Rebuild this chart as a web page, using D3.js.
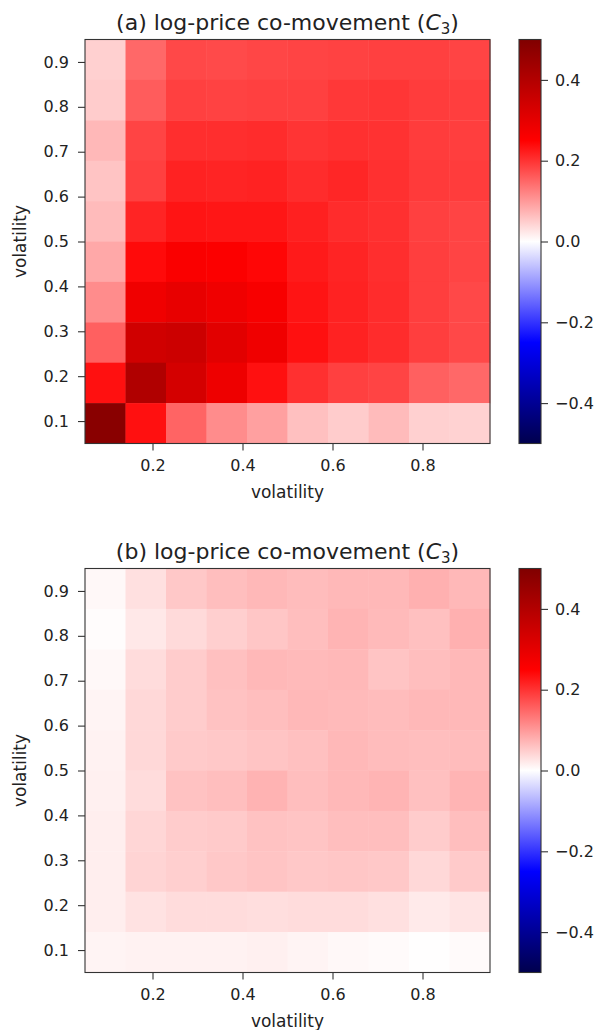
<!DOCTYPE html>
<html>
<head>
<meta charset="utf-8">
<script src="https://cdn.jsdelivr.net/npm/d3@7"></script>
<style>
  body { margin: 0; background: #fff; }
  text { font-family: "DejaVu Sans", sans-serif; fill: #222; }
</style>
</head>
<body>
<svg id="chart" width="595" height="1030"></svg>
<script>
// volatility grid: 10 cells spanning 0.05 .. 0.95 on both axes
const volExtent = [0.05, 0.95]
const nCells = 10

const xTicks = [0.2, 0.4, 0.6, 0.8]
const yTicks = [0.1, 0.2, 0.3, 0.4, 0.5, 0.6, 0.7, 0.8, 0.9]
const cbTicks = [-0.4, -0.2, 0.0, 0.2, 0.4]
const titles = ["(a) log-price co-movement (", "(b) log-price co-movement ("]

// rows listed from top (high volatility) to bottom (low volatility)
const c3a = [
  [0.046, 0.148, 0.179, 0.177, 0.181, 0.183, 0.185, 0.187, 0.187, 0.183],
  [0.050, 0.160, 0.187, 0.185, 0.187, 0.187, 0.195, 0.197, 0.191, 0.189],
  [0.070, 0.183, 0.205, 0.205, 0.207, 0.199, 0.203, 0.201, 0.191, 0.189],
  [0.058, 0.187, 0.217, 0.215, 0.217, 0.207, 0.213, 0.203, 0.193, 0.191],
  [0.067, 0.215, 0.230, 0.228, 0.228, 0.219, 0.207, 0.203, 0.187, 0.183],
  [0.085, 0.240, 0.260, 0.256, 0.244, 0.225, 0.215, 0.205, 0.189, 0.183],
  [0.113, 0.279, 0.295, 0.279, 0.264, 0.230, 0.217, 0.207, 0.189, 0.179],
  [0.156, 0.342, 0.350, 0.307, 0.279, 0.234, 0.217, 0.207, 0.189, 0.179],
  [0.234, 0.405, 0.334, 0.283, 0.234, 0.203, 0.187, 0.183, 0.156, 0.148],
  [0.483, 0.234, 0.152, 0.113, 0.093, 0.062, 0.050, 0.067, 0.046, 0.044]
]

const c3b = [
  [0.007, 0.030, 0.054, 0.064, 0.070, 0.066, 0.070, 0.070, 0.077, 0.070],
  [0.003, 0.023, 0.036, 0.047, 0.056, 0.064, 0.074, 0.068, 0.062, 0.077],
  [0.007, 0.034, 0.050, 0.062, 0.070, 0.068, 0.070, 0.058, 0.064, 0.070],
  [0.011, 0.038, 0.050, 0.060, 0.064, 0.070, 0.068, 0.066, 0.070, 0.070],
  [0.013, 0.038, 0.052, 0.054, 0.058, 0.062, 0.070, 0.066, 0.064, 0.066],
  [0.015, 0.034, 0.060, 0.064, 0.075, 0.064, 0.070, 0.074, 0.062, 0.074],
  [0.017, 0.040, 0.050, 0.052, 0.060, 0.058, 0.064, 0.064, 0.050, 0.064],
  [0.017, 0.042, 0.047, 0.054, 0.058, 0.054, 0.056, 0.054, 0.038, 0.052],
  [0.017, 0.028, 0.034, 0.034, 0.032, 0.034, 0.034, 0.030, 0.021, 0.026],
  [0.011, 0.013, 0.013, 0.013, 0.015, 0.011, 0.007, 0.005, 0.001, 0.005]
]

// matplotlib "seismic"
const seismicStops = [-0.5, -0.25, 0, 0.25, 0.5]
const seismicColors = ["rgb(0,0,77)", "rgb(0,0,255)", "rgb(255,255,255)", "rgb(255,0,0)", "rgb(128,0,0)"]
const color = d3.scaleLinear().domain(seismicStops).range(seismicColors)
  .interpolate(d3.interpolateRgb).clamp(true)

const svg = d3.select("#chart")
const W = 405, H = 404, left = 85, cbX = 519, cbW = 22
const step = (volExtent[1] - volExtent[0]) / nCells

const x = d3.scaleLinear().domain(volExtent).range([0, W])
const y = d3.scaleLinear().domain(volExtent).range([H, 0])
const cb = d3.scaleLinear().domain([-0.5, 0.5]).range([H, 0])
const fmt = d3.format(".1f")
const minus = v => fmt(v).replace("-", "\u2212")

const grad = svg.append("defs").append("linearGradient")
  .attr("id", "seismic").attr("x1", 0).attr("y1", 1).attr("x2", 0).attr("y2", 0)
grad.selectAll("stop").data(seismicStops).enter().append("stop")
  .attr("offset", d => (d + 0.5))
  .attr("stop-color", d => color(d))

function panel(top, matrix, title) {
  const g = svg.append("g").attr("transform", "translate(" + left + "," + top + ")")

  const cells = []
  matrix.forEach((row, r) => row.forEach((v, c) => {
    cells.push({ x0: volExtent[0] + c * step, y0: volExtent[1] - (r + 1) * step, v: v })
  }))

  g.selectAll(".cell").data(cells).enter().append("rect")
    .attr("x", d => x(d.x0))
    .attr("y", d => y(d.y0 + step))
    .attr("width", d => x(d.x0 + step) - x(d.x0) + 0.4)
    .attr("height", d => y(d.y0) - y(d.y0 + step) + 0.4)
    .attr("fill", d => color(d.v))

  g.append("rect").attr("width", W).attr("height", H)
    .attr("fill", "none").attr("stroke", "#333").attr("stroke-width", 1.1)

  const xa = g.append("g").attr("transform", "translate(0," + H + ")")
    .call(d3.axisBottom(x).tickValues(xTicks).tickFormat(fmt).tickSize(7).tickPadding(9))
  const ya = g.append("g")
    .call(d3.axisLeft(y).tickValues(yTicks).tickFormat(fmt).tickSize(7).tickPadding(9))
  ;[xa, ya].forEach(a => {
    a.select(".domain").remove()
    a.selectAll("line").attr("stroke", "#333").attr("stroke-width", 1.1)
    a.selectAll("text").style("font-size", "16px").attr("fill", "#222")
  })

  g.append("text").attr("x", W / 2).attr("y", H + 54)
    .attr("text-anchor", "middle").style("font-size", "17px").text("volatility")
  g.append("text").attr("transform", "translate(-59," + H / 2 + ") rotate(-90)")
    .attr("text-anchor", "middle").style("font-size", "17px").text("volatility")

  const t = g.append("text").attr("x", W / 2).attr("y", -10)
    .attr("text-anchor", "middle").style("font-size", "22px")
  t.append("tspan").text(title)
  t.append("tspan").style("font-style", "italic").text("C")
  t.append("tspan").attr("dy", 4).style("font-size", "15px").text("3")
  t.append("tspan").attr("dy", -4).text(")")

  // colorbar
  const c = svg.append("g").attr("transform", "translate(" + cbX + "," + top + ")")
  c.append("rect").attr("width", cbW).attr("height", H)
    .attr("fill", "url(#seismic)").attr("stroke", "#333").attr("stroke-width", 1.1)
  const ca = c.append("g").attr("transform", "translate(" + cbW + ",0)")
    .call(d3.axisRight(cb).tickValues(cbTicks).tickFormat(minus).tickSize(7).tickPadding(7))
  ca.select(".domain").remove()
  ca.selectAll("line").attr("stroke", "#333").attr("stroke-width", 1.1)
  ca.selectAll("text").style("font-size", "16px").attr("fill", "#222")
}

panel(39.5, c3a, titles[0])
panel(568.5, c3b, titles[1])
</script>
</body>
</html>
